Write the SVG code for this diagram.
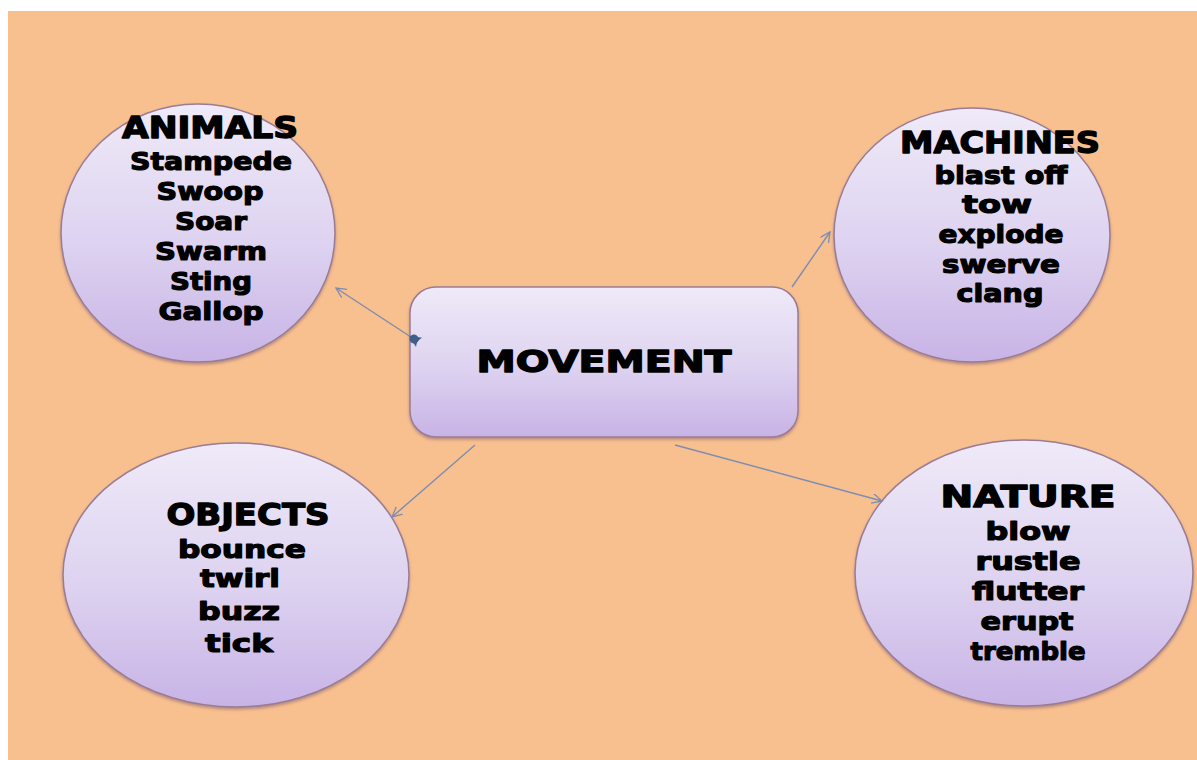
<svg xmlns="http://www.w3.org/2000/svg" width="1197" height="760" viewBox="0 0 1197 760">
<defs>
<linearGradient id="g" x1="0" y1="0" x2="0" y2="1">
<stop offset="0" stop-color="#efeaf8"/>
<stop offset="0.55" stop-color="#ddd2f0"/>
<stop offset="1" stop-color="#c8b3e6"/>
</linearGradient>
<filter id="sh" x="-10%" y="-10%" width="120%" height="125%">
<feDropShadow dx="0" dy="2" stdDeviation="1.5" flood-color="#6a4a6a" flood-opacity="0.45"/>
</filter>
<marker id="open" markerWidth="12" markerHeight="12" refX="10" refY="5" orient="auto" markerUnits="userSpaceOnUse">
<path d="M0,0 L10,5 L0,10" fill="none" stroke="#7d8db0" stroke-width="1.3"/>
</marker>
<marker id="blob" markerWidth="16" markerHeight="16" refX="8" refY="8" orient="auto" markerUnits="userSpaceOnUse">
<path d="M2,2.5 L14,8 L2,13.5 Q5,8 2,2.5 Z" fill="#3f5f8a"/>
<circle cx="8" cy="8" r="4.5" fill="#3f5f8a"/>
</marker>
</defs>
<style>
.node{fill:url(#g);stroke:#9a7c94;stroke-width:1.5;filter:url(#sh)}
.h{font-family:"DejaVu Sans",sans-serif;font-weight:bold;font-size:31px;fill:#000;stroke:#000;stroke-width:1.4;stroke-linejoin:round;text-anchor:middle}
.i{font-family:"DejaVu Sans",sans-serif;font-weight:bold;font-size:25.5px;fill:#000;stroke:#000;stroke-width:1.2;stroke-linejoin:round;text-anchor:middle}
.c{fill:none;stroke:#7d8db0;stroke-width:1.4}
</style>
<rect x="0" y="0" width="1197" height="760" fill="#ffffff"/>
<rect x="8" y="11" width="1189" height="749" fill="#f8c08f"/>
<g id="movement">
<rect class="node" x="410" y="287" width="388" height="150" rx="26"/>
<text class="h" x="604" y="372" font-size="35" textLength="255" lengthAdjust="spacingAndGlyphs">MOVEMENT</text>
</g>
<g id="animals">
<ellipse class="node" cx="198" cy="233" rx="137" ry="129"/>
<text class="h" x="210" y="138" textLength="176" lengthAdjust="spacingAndGlyphs">ANIMALS</text>
<text class="i" x="211" y="170" textLength="162" lengthAdjust="spacingAndGlyphs">Stampede</text>
<text class="i" x="210" y="200" textLength="107" lengthAdjust="spacingAndGlyphs">Swoop</text>
<text class="i" x="211" y="230" textLength="72" lengthAdjust="spacingAndGlyphs">Soar</text>
<text class="i" x="211" y="260" textLength="112" lengthAdjust="spacingAndGlyphs">Swarm</text>
<text class="i" x="211" y="290" textLength="82" lengthAdjust="spacingAndGlyphs">Sting</text>
<text class="i" x="211" y="320" textLength="105" lengthAdjust="spacingAndGlyphs">Gallop</text>
</g>
<g id="machines">
<ellipse class="node" cx="972" cy="235" rx="138" ry="127"/>
<text class="h" x="1000" y="153" textLength="200" lengthAdjust="spacingAndGlyphs">MACHINES</text>
<text class="i" x="1001" y="184" textLength="133" lengthAdjust="spacingAndGlyphs">blast off</text>
<text class="i" x="997" y="213" textLength="70" lengthAdjust="spacingAndGlyphs">tow</text>
<text class="i" x="1001" y="243" textLength="125" lengthAdjust="spacingAndGlyphs">explode</text>
<text class="i" x="1001" y="273" textLength="118" lengthAdjust="spacingAndGlyphs">swerve</text>
<text class="i" x="1000" y="302" textLength="87" lengthAdjust="spacingAndGlyphs">clang</text>
</g>
<g id="objects">
<ellipse class="node" cx="236" cy="575" rx="173" ry="132"/>
<text class="h" x="248" y="525" textLength="163" lengthAdjust="spacingAndGlyphs">OBJECTS</text>
<text class="i" x="242" y="558" textLength="128" lengthAdjust="spacingAndGlyphs">bounce</text>
<text class="i" x="240" y="587" textLength="80" lengthAdjust="spacingAndGlyphs">twirl</text>
<text class="i" x="239" y="620" textLength="82" lengthAdjust="spacingAndGlyphs">buzz</text>
<text class="i" x="239" y="652" textLength="68" lengthAdjust="spacingAndGlyphs">tick</text>
</g>
<g id="nature">
<ellipse class="node" cx="1024" cy="573" rx="169" ry="133"/>
<text class="h" x="1028" y="507" font-size="38" textLength="175" lengthAdjust="spacingAndGlyphs">NATURE</text>
<text class="i" x="1028" y="540" textLength="85" lengthAdjust="spacingAndGlyphs">blow</text>
<text class="i" x="1028" y="570" textLength="105" lengthAdjust="spacingAndGlyphs">rustle</text>
<text class="i" x="1028" y="600" textLength="112" lengthAdjust="spacingAndGlyphs">flutter</text>
<text class="i" x="1027" y="630" textLength="93" lengthAdjust="spacingAndGlyphs">erupt</text>
<text class="i" x="1028" y="660" textLength="115" lengthAdjust="spacingAndGlyphs">tremble</text>
</g>
<g id="connectors">
<line class="c" x1="414" y1="339" x2="336" y2="288" marker-start="url(#blob)" marker-end="url(#open)"/>
<line class="c" x1="792" y1="287" x2="830" y2="232" marker-end="url(#open)"/>
<line class="c" x1="475" y1="445" x2="392" y2="517" marker-end="url(#open)"/>
<line class="c" x1="675" y1="445" x2="882" y2="501" marker-end="url(#open)"/>
</g>
</svg>
